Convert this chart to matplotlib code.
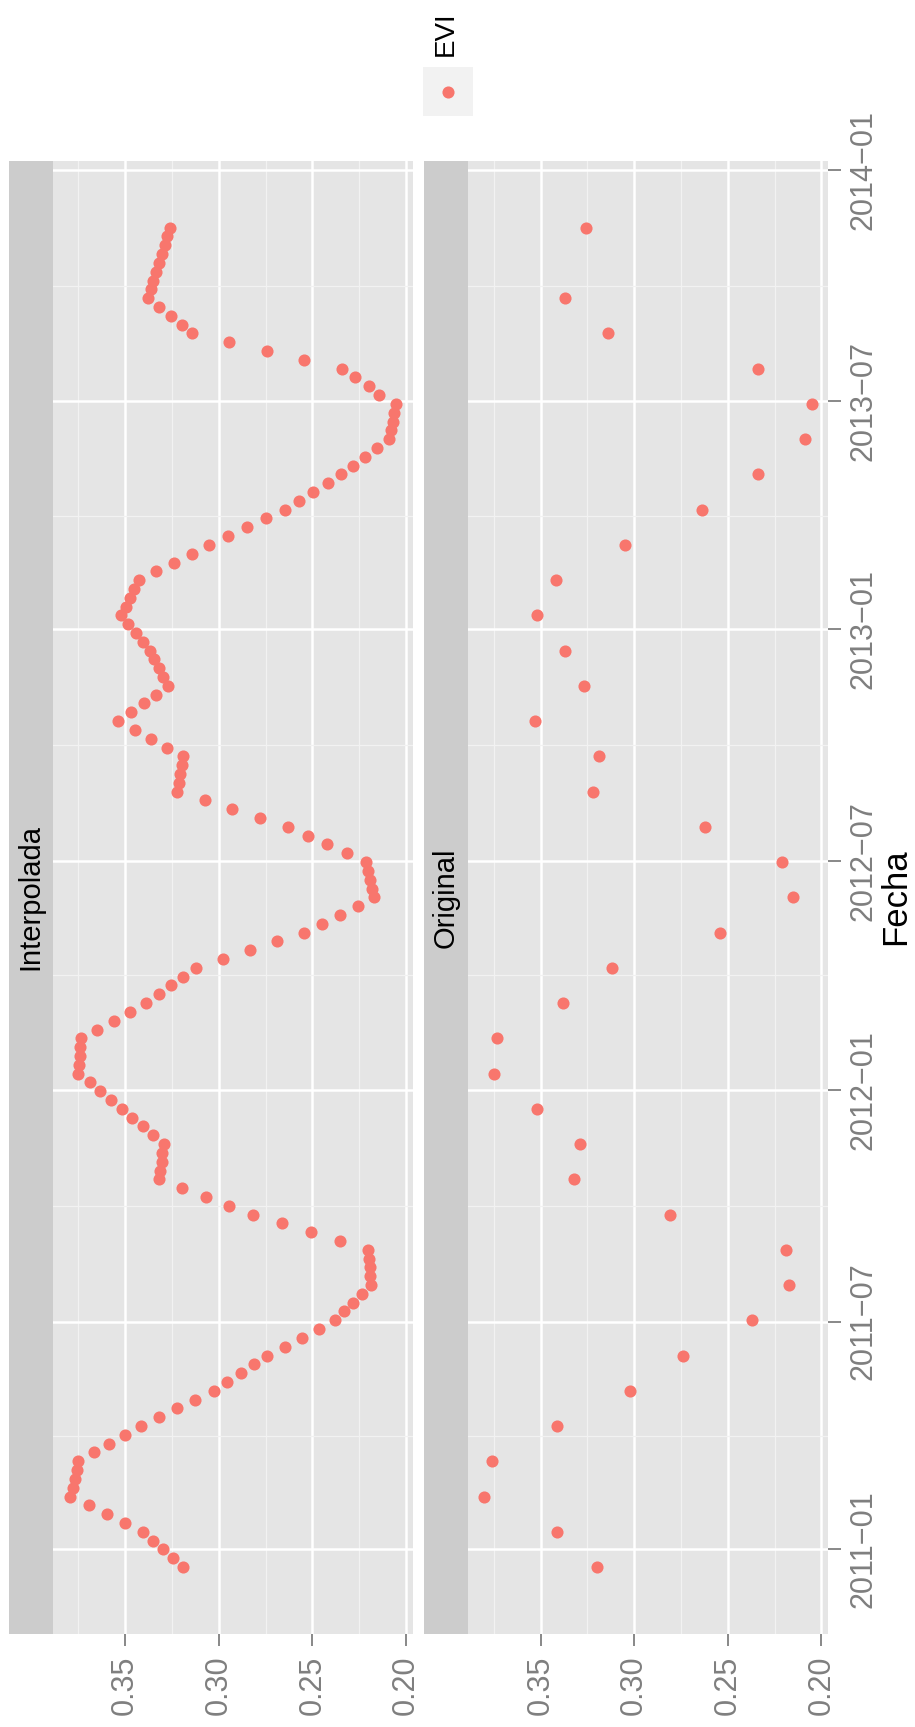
import numpy as np
import pandas as pd
import matplotlib
matplotlib.use('Agg')
import matplotlib.pyplot as plt
import matplotlib.dates as mdates
from matplotlib.ticker import MultipleLocator, FormatStrFormatter

plt.rcParams['font.family'] = ['Liberation Sans', 'DejaVu Sans']

# --- datos ---
# serie original (cada 28 dias, falta 2013-10-19)
orig_fechas = [
    '2010-12-18', '2011-01-15', '2011-02-12', '2011-03-12', '2011-04-09',
    '2011-05-07', '2011-06-04', '2011-07-02', '2011-07-30', '2011-08-27',
    '2011-09-24', '2011-10-22', '2011-11-19', '2011-12-17', '2012-01-14',
    '2012-02-11', '2012-03-10', '2012-04-07', '2012-05-05', '2012-06-02',
    '2012-06-30', '2012-07-28', '2012-08-25', '2012-09-22', '2012-10-20',
    '2012-11-17', '2012-12-15', '2013-01-12', '2013-02-09', '2013-03-09',
    '2013-04-06', '2013-05-04', '2013-06-01', '2013-06-29', '2013-07-27',
    '2013-08-24', '2013-09-21', '2013-11-16',
]
orig_evi = [
    0.320, 0.341, 0.380, 0.376, 0.341, 0.302, 0.274, 0.237, 0.2175, 0.219,
    0.281, 0.332, 0.329, 0.352, 0.375, 0.373, 0.338, 0.312, 0.254, 0.215,
    0.221, 0.262, 0.322, 0.319, 0.353, 0.327, 0.337, 0.352, 0.342, 0.305,
    0.264, 0.234, 0.209, 0.205, 0.234, 0.314, 0.337, 0.326,
]

# serie interpolada (semanal desde 2010-12-18)
interp_inicio = '2010-12-18'
interp_evi = [
    0.3191, 0.3244, 0.3296, 0.3352, 0.3404, 0.3500, 0.3599, 0.3694, 0.3793, 0.3781,
    0.3769, 0.3759, 0.3754, 0.3668, 0.3585, 0.3500, 0.3415, 0.3317, 0.3222, 0.3125,
    0.3028, 0.2956, 0.2884, 0.2813, 0.2742, 0.2649, 0.2557, 0.2466, 0.2377, 0.2329,
    0.2281, 0.2235, 0.2185, 0.2190, 0.2194, 0.2196, 0.2201, 0.2354, 0.2507, 0.2660,
    0.2815, 0.2943, 0.3069, 0.3196, 0.3321, 0.3313, 0.3306, 0.3301, 0.3295, 0.3351,
    0.3406, 0.3463, 0.3518, 0.3578, 0.3635, 0.3690, 0.3751, 0.3747, 0.3742, 0.3740,
    0.3738, 0.3649, 0.3562, 0.3475, 0.3388, 0.3320, 0.3254, 0.3189, 0.3121, 0.2977,
    0.2833, 0.2689, 0.2546, 0.2448, 0.2351, 0.2254, 0.2169, 0.2180, 0.2190, 0.2203,
    0.2212, 0.2317, 0.2420, 0.2525, 0.2630, 0.2779, 0.2927, 0.3075, 0.3226, 0.3215,
    0.3206, 0.3198, 0.3189, 0.3278, 0.3363, 0.3448, 0.3536, 0.3468, 0.3402, 0.3338,
    0.3270, 0.3297, 0.3322, 0.3345, 0.3368, 0.3406, 0.3445, 0.3484, 0.3520, 0.3498,
    0.3475, 0.3452, 0.3429, 0.3335, 0.3240, 0.3144, 0.3050, 0.2950, 0.2849, 0.2747,
    0.2648, 0.2571, 0.2496, 0.2418, 0.2345, 0.2281, 0.2217, 0.2157, 0.2092, 0.2082,
    0.2072, 0.2062, 0.2052, 0.2142, 0.2198, 0.2270, 0.2343, 0.2544, 0.2744, 0.2943,
    0.3141, 0.3199, 0.3258, 0.3317, 0.3377, 0.3361, 0.3349, 0.3335, 0.3319, 0.3304,
    0.3290, 0.3276, 0.3260,
]
interp_fechas = pd.date_range(interp_inicio, periods=len(interp_evi), freq='7D')

paneles = ['Interpolada', 'Original']

# --- figura ---
W, H = 915, 1727
fig = plt.figure(figsize=(W / 100, H / 100), dpi=100)


def rect(x0, y0, x1, y1):
    # caja en pixeles (origen arriba a la izquierda) -> fracciones de figura
    return [x0 / W, 1 - y1 / H, (x1 - x0) / W, (y1 - y0) / H]


PUNTO = '#F8766D'
FONDO = '#E5E5E5'
GRIS = '#7F7F7F'

todos_evi = np.concatenate([interp_evi, orig_evi])
e_lo, e_hi = todos_evi.min(), todos_evi.max()
e_pad = 0.05 * (e_hi - e_lo)
d_all = np.concatenate([mdates.date2num(interp_fechas),
                        mdates.date2num(pd.to_datetime(orig_fechas))])
d_lo, d_hi = d_all.min(), d_all.max()
d_pad = 0.05 * (d_hi - d_lo)

series = [(interp_fechas, interp_evi),
          (pd.to_datetime(orig_fechas), orig_evi)]
cajas = [(52.7, 413), (468, 828.5)]
tiras = [(9, 52.7), (424, 468)]
Y0, Y1 = 160.7, 1634

for i, (nombre, (fechas, evi), (x0, x1), (s0, s1)) in enumerate(
        zip(paneles, series, cajas, tiras)):
    ax = fig.add_axes(rect(x0, Y0, x1, Y1))
    ax.set_facecolor(FONDO)
    for sp in ax.spines.values():
        sp.set_visible(False)
    ax.set_axisbelow(True)

    ax.scatter(evi, fechas, s=76, color=PUNTO, linewidths=0, zorder=3)

    ax.set_xlim(e_hi + e_pad, e_lo - e_pad)
    ax.set_ylim(d_lo - d_pad, d_hi + d_pad)

    ax.xaxis.set_major_locator(MultipleLocator(0.05))
    ax.xaxis.set_minor_locator(MultipleLocator(0.025))
    ax.xaxis.set_major_formatter(FormatStrFormatter('%.2f'))
    ax.yaxis.set_major_locator(mdates.MonthLocator(bymonth=[1, 7]))
    ax.yaxis.set_minor_locator(mdates.MonthLocator(bymonth=[4, 10]))
    ax.yaxis.set_major_formatter(mdates.DateFormatter('%Y\u2212%m'))

    ax.grid(which='major', color='white', linewidth=1.8)
    ax.grid(which='minor', color='#F2F2F2', linewidth=0.9)

    ax.tick_params(axis='x', which='major', length=8.5, width=1.3,
                   color=GRIS, labelcolor=GRIS, labelsize=22, pad=7,
                   labelrotation=90)
    ax.tick_params(which='minor', length=0)

    if i == 1:
        ax.yaxis.tick_right()
        ax.tick_params(axis='y', which='major', length=9.5, width=1.3,
                       color=GRIS, labelcolor=GRIS, labelsize=22, pad=5,
                       labelrotation=90)
        plt.setp(ax.get_yticklabels(), va='center')
    else:
        ax.tick_params(axis='y', which='both', length=0, labelleft=False)

    # tira del panel
    st = fig.add_axes(rect(s0, Y0, s1, Y1))
    st.set_facecolor('#CCCCCC')
    st.set_xticks([])
    st.set_yticks([])
    for sp in st.spines.values():
        sp.set_visible(False)
    st.text(0.5, 0.5, nombre, rotation=90, ha='center', va='center',
            fontsize=21, color='black', transform=st.transAxes)

# leyenda
key = fig.add_axes(rect(423, 67, 473, 116))
key.set_facecolor('#F2F2F2')
key.set_xticks([])
key.set_yticks([])
for sp in key.spines.values():
    sp.set_visible(False)
key.scatter([0.5], [0.5], s=76, color=PUNTO, linewidths=0,
            transform=key.transAxes)
fig.text(446 / W, 1 - 33.5 / H, 'EVI', rotation=90, ha='center',
         va='center', fontsize=20)

fig.text(896 / W, 1 - 897 / H, 'Fecha', rotation=90, ha='center',
         va='center', fontsize=25)

fig.savefig('out.png', dpi=100, facecolor='white')
